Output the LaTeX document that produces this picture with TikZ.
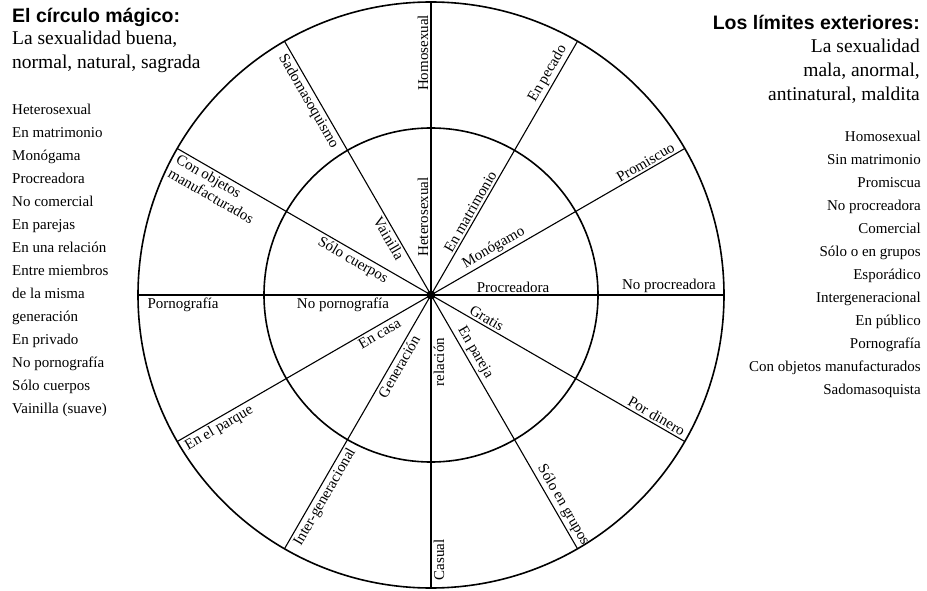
\documentclass[tikz,border=0pt]{standalone}
\usepackage{fontspec}
\setmainfont{Liberation Serif}
\newfontfamily\headfont{Liberation Sans}
\begin{document}
\begin{tikzpicture}[x=1pt,y=1pt,
  lab/.style={font=\fontsize{15}{16}\selectfont, inner sep=2.5pt},
  listtxt/.style={font=\fontsize{15}{23}\selectfont, inner sep=0pt},
  headtitle/.style={font=\headfont\bfseries\fontsize{19.5}{24}\selectfont, inner sep=0pt},
  headsub/.style={font=\fontsize{19.5}{23.8}\selectfont, inner sep=0pt},
  ring/.style={line width=1.6pt},
  spoke/.style={line width=1.1pt},
  hub/.style={circle, fill=black, inner sep=0pt, minimum size=9pt}]
\useasboundingbox (0,0) rectangle (927,590);

% headings
\node[headtitle, anchor=west] (lt) at (12,573) {El círculo mágico:};
\node[headsub, anchor=west, align=left] (ls) at (12,538.5) {La sexualidad buena,\\normal, natural, sagrada};
\node[headtitle, anchor=east] (rt) at (920,568) {Los límites exteriores:};
\node[headsub, anchor=east, align=right] (rs) at (920,519) {La sexualidad\\mala, anormal,\\antinatural, maldita};

% lists
\node[listtxt, anchor=west, align=left] (llist) at (12,330) {Heterosexual\\En matrimonio\\Monógama\\Procreadora\\No comercial\\En parejas\\En una relación\\Entre miembros\\de la misma\\generación\\En privado\\No pornografía\\Sólo cuerpos\\Vainilla (suave)};
\node[listtxt, anchor=east, align=right] (rlist) at (921,326) {Homosexual\\Sin matrimonio\\Promiscua\\No procreadora\\Comercial\\Sólo o en grupos\\Esporádico\\Intergeneracional\\En público\\Pornografía\\Con objetos manufacturados\\Sadomasoquista};

% circles and spokes
\coordinate (c) at (431,295);
\draw[ring] (c) circle (293);
\draw[ring] (c) circle (167);
\foreach \a in {0,30,...,330} {
  \coordinate (o\a) at ([shift={(\a:293)}]c);
  \draw[spoke] (c) -- (o\a);
}
\node[hub] (hubdot) at (c) {};

% labels along spokes
\node[lab, rotate=0, anchor=south] (a1) at ([shift={(0:82)}]c) {Procreadora};
\node[lab, rotate=0, anchor=south] (a2) at ([shift={(0:238)}]c) {No procreadora};
\node[lab, rotate=30, anchor=south] (b1) at ([shift={(30:78)}]c) {Monógamo};
\node[lab, rotate=30, anchor=south] (b2) at ([shift={(30:252)}]c) {Promiscuo};
\node[lab, rotate=60, anchor=south] (d1) at ([shift={(60:92)}]c) {En matrimonio};
\node[lab, rotate=60, anchor=south] (d2) at ([shift={(60:250)}]c) {En pecado};
\node[lab, rotate=90, anchor=south] (e1) at ([shift={(90:78)}]c) {Heterosexual};
\node[lab, rotate=90, anchor=south] (e2) at ([shift={(90:242)}]c) {Homosexual};
\node[lab, rotate=-60, anchor=north] (f1) at ([shift={(120:70)}]c) {Vainilla};
\node[lab, rotate=-60, anchor=north] (f2) at ([shift={(120:229)}]c) {Sadomasoquismo};
\node[lab, rotate=-30, anchor=north] (g1) at ([shift={(150:85)}]c) {Sólo cuerpos};
\node[lab, rotate=-30, anchor=north, align=left] (g2) at ([shift={(150:240)}]c) {Con objetos\\manufacturados};
\node[lab, rotate=0, anchor=north] (h1) at ([shift={(180:88)}]c) {No pornografía};
\node[lab, rotate=0, anchor=north] (h2) at ([shift={(180:248)}]c) {Pornografía};
\node[lab, rotate=30, anchor=north] (i1) at ([shift={(210:64)}]c) {En casa};
\node[lab, rotate=30, anchor=north] (i2) at ([shift={(210:250)}]c) {En el parque};
\node[lab, rotate=60, anchor=north] (j1) at ([shift={(240:78)}]c) {Generación};
\node[lab, rotate=60, anchor=north] (j2) at ([shift={(240:228)}]c) {Inter-generacional};
\node[lab, rotate=90, anchor=north] (k1) at ([shift={(270:67)}]c) {relación};
\node[lab, rotate=90, anchor=north] (k2) at ([shift={(270:265)}]c) {Casual};
\node[lab, rotate=-60, anchor=south] (m1) at ([shift={(300:72)}]c) {En pareja};
\node[lab, rotate=-60, anchor=south] (m2) at ([shift={(300:248)}]c) {Sólo en grupos};
\node[lab, rotate=-30, anchor=south] (n1) at ([shift={(330:60)}]c) {Gratis};
\node[lab, rotate=-30, anchor=south] (n2) at ([shift={(330:256)}]c) {Por dinero};
\end{tikzpicture}
\end{document}
